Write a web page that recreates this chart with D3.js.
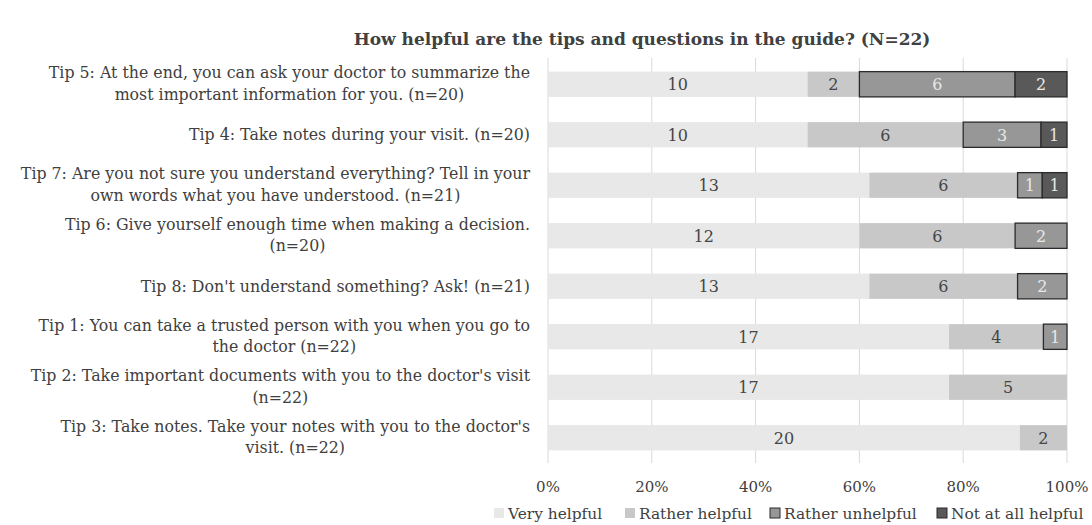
<!DOCTYPE html>
<html><head><meta charset="utf-8">
<script src="https://cdn.jsdelivr.net/npm/d3@7"></script>
<style>
html,body{margin:0;padding:0;background:#fff;}
svg{display:block;}
text{font-family:"DejaVu Serif",serif;}
</style></head>
<body><svg id="c" width="1092" height="525"></svg>
<script>
const title = "How helpful are the tips and questions in the guide? (N=22)";
const categories = [
  ["Tip 5: At the end, you can ask your doctor to summarize the","most important information for you. (n=20)"],
  ["Tip 4: Take notes during your visit. (n=20)"],
  ["Tip 7: Are you not sure you understand everything? Tell in your","own words what you have understood. (n=21)"],
  ["Tip 6:  Give yourself enough time when making a decision.","(n=20)"],
  ["Tip 8: Don't understand something? Ask! (n=21)"],
  ["Tip 1: You can take a trusted person with you when you go to","the doctor (n=22)"],
  ["Tip 2: Take important documents with you to the doctor's visit","(n=22)"],
  ["Tip 3: Take notes. Take your notes with you  to the doctor's","visit. (n=22)"]
];
const seriesNames = ["Very helpful","Rather helpful","Rather unhelpful","Not at all helpful"];
const veryHelpful      = [10,10,13,12,13,17,17,20];
const ratherHelpful    = [2,6,6,6,6,4,5,2];
const ratherUnhelpful  = [6,3,1,2,2,1,0,0];
const notAtAllHelpful  = [2,1,1,0,0,0,0,0];
const tickValues = [0,0.2,0.4,0.6,0.8,1];
const tickLabels = ["0%","20%","40%","60%","80%","100%"];

const fills   = ["#e8e8e8","#c8c8c8","#979797","#595959"];
const strokes = ["none","none","#2b2b2b","#2b2b2b"];
const labelCol= ["#454545","#454545","#e8e8e8","#e8e8e8"];

const svg = d3.select("#c");
const x = d3.scaleLinear().domain([0,1]).range([548,1067]);
const y = d3.scaleBand().domain(d3.range(categories.length)).range([59,463]).paddingInner(0.5).paddingOuter(0.25);

const rows = categories.map((c,i)=>{
  const vals=[veryHelpful[i],ratherHelpful[i],ratherUnhelpful[i],notAtAllHelpful[i]];
  const tot=d3.sum(vals);
  let acc=0;
  return vals.map((v,k)=>{const s={i,k,v,x0:acc/tot,x1:(acc+v)/tot};acc+=v;return s;});
});

// gridlines
svg.append("g").selectAll("line").data(tickValues).join("line")
  .attr("x1",d=>x(d)).attr("x2",d=>x(d)).attr("y1",58).attr("y2",463)
  .attr("stroke","#d9d9d9").attr("stroke-width",1);

// title
svg.append("text").attr("x",642).attr("y",45).attr("text-anchor","middle")
  .attr("font-size",17).attr("font-weight","bold").attr("fill","#404040").text(title);

// bars
const segs = rows.flat().filter(d=>d.v>0);
const g = svg.append("g");
g.selectAll("rect").data(segs).join("rect")
  .attr("x",d=>x(d.x0)).attr("width",d=>x(d.x1)-x(d.x0))
  .attr("y",d=>y(d.i)).attr("height",y.bandwidth())
  .attr("fill",d=>fills[d.k])
  .attr("stroke",d=>strokes[d.k]).attr("stroke-width",1.3);
g.selectAll("text").data(segs).join("text")
  .attr("x",d=>x((d.x0+d.x1)/2)).attr("y",d=>y(d.i)+y.bandwidth()/2)
  .attr("dy","0.36em").attr("text-anchor","middle").attr("font-size",16)
  .attr("fill",d=>labelCol[d.k]).text(d=>d.v);

// category labels
const lg = svg.append("g");
categories.forEach((lines,i)=>{
  const cy = y(i)+y.bandwidth()/2;
  const lh = 21.5;
  const t = lg.append("text").attr("text-anchor","end").attr("font-size",15.8).attr("fill","#404040");
  lines.forEach((ln,j)=>{
    t.append("tspan").attr("x",530).attr("y", cy + (j-(lines.length-1)/2)*lh - (lines.length>1?1:0)).attr("dy","0.35em")
      .attr("text-anchor", j===0 ? "end" : "middle").text(ln);
  });
});
// center second lines under first lines
lg.selectAll("text").each(function(){
  const tsp = d3.select(this).selectAll("tspan").nodes();
  if(tsp.length>1){
    const w = tsp[0].getComputedTextLength();
    d3.select(tsp[1]).attr("x",530-w/2);
  }
});

// x axis labels
svg.append("g").selectAll("text").data(tickValues).join("text")
  .attr("x",d=>x(d)).attr("y",487).attr("dy","0.35em").attr("text-anchor","middle")
  .attr("font-size",15).attr("fill","#404040").text((d,i)=>tickLabels[i]);

// legend
const legX=[494,625,770,937];
const leg = svg.append("g");
seriesNames.forEach((n,k)=>{
  leg.append("rect").attr("x",legX[k]).attr("y",508).attr("width",10).attr("height",10)
    .attr("fill",fills[k]).attr("stroke",strokes[k]).attr("stroke-width",1);
  leg.append("text").attr("x",legX[k]+14).attr("y",513).attr("dy","0.36em")
    .attr("font-size",15.4).attr("fill","#404040").text(n);
});
</script></body></html>
